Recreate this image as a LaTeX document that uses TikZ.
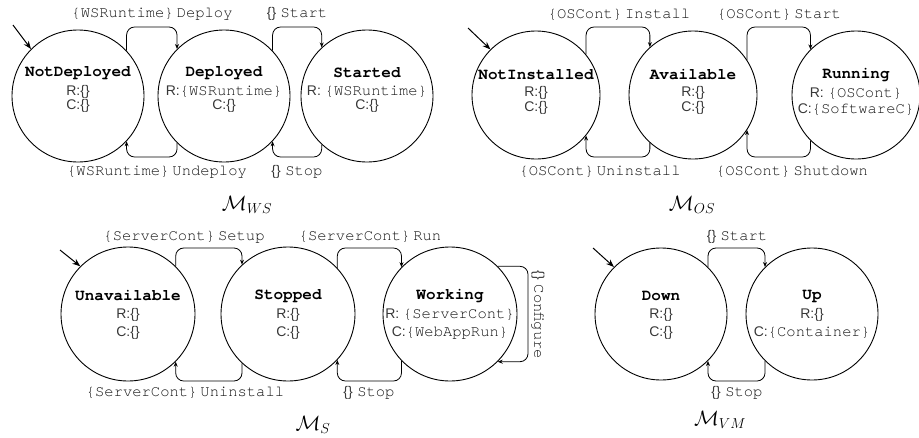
\documentclass[tikz,border=0pt]{standalone}
\usepackage{fontspec}
\setsansfont{Liberation Sans}
\newfontfamily\cur{texgyrecursor}[Extension=.otf,UprightFont=*-regular,BoldFont=*-bold]
\usetikzlibrary{arrows.meta}
\newcommand\nm[1]{{\cur\bfseries\fontsize{16}{16}\selectfont #1}}
\newcommand\mono[1]{{\color{black!92}\cur\fontsize{15.5}{16}\selectfont #1}}
\newcommand\sns[1]{{\color{black!78}\sffamily\fontsize{14}{16}\selectfont #1}}
\newcommand\mcap[1]{{\fontsize{20}{20}\selectfont$\mathcal{M}_{#1}$}}
\begin{document}
\begin{tikzpicture}[x=1pt,y=-1pt,
  st/.style={circle, draw, line width=0.9pt, minimum size=132pt, inner sep=0pt},
  tr/.style={-{Stealth[length=5pt,width=4pt]}, line width=0.8pt, rounded corners=8pt},
  ini/.style={-{Stealth[length=8pt,width=6pt]}, line width=1pt},
  txt/.style={inner sep=0pt},
  nmt/.style={inner sep=0pt, text=black}]
\useasboundingbox (0,0) rectangle (919,437);

% ---------------- M_WS ----------------
\node[st] (nd) at (78,96) {};
\node[nmt] (ndn) at (78,73) {\nm{NotDeployed}};
\node[txt] (ndr) at (78,92) {\sns{R:\{\}}};
\node[txt] (ndc) at (78,106) {\sns{C:\{\}}};

\node[st] (dep) at (224,96) {};
\node[nmt] (depn) at (224,73) {\nm{Deployed}};
\node[txt] (depr) at (224,92) {\sns{R:}\mono{\{WSRuntime\}}};
\node[txt] (depc) at (224,106) {\sns{C:\{\}}};

\node[st] (sta) at (367,96) {};
\node[nmt] (stan) at (367,73) {\nm{Started}};
\node[txt] (star) at (367,92) {\sns{R: }\mono{\{WSRuntime\}}};
\node[txt] (stac) at (367,106) {\sns{C:\{\}}};

\coordinate (i1) at (13,25);
\draw[ini] (i1) -- (nd.135);
\draw[tr] (nd.43) |- (150,27) -| (dep.135);
\draw[tr] (dep.225) |- (150,157) -| (nd.317);
\draw[tr] (dep.43) |- (297,27) -| (sta.133);
\draw[tr] (sta.227) |- (297,157) -| (dep.317);

\node[txt] (l1) at (152,14) {\mono{\{WSRuntime\}}\hspace{3pt}\mono{Deploy}};
\node[txt] (l2) at (157,172) {\mono{\{WSRuntime\}}\hspace{3pt}\mono{Undeploy}};
\node[txt] (l3) at (297,14) {\sns{\{\}}\hspace{4.5pt}\mono{Start}};
\node[txt] (l4) at (297,172) {\sns{\{\}}\hspace{4.5pt}\mono{Stop}};
\node (cws) at (247,205) {\mcap{WS}};

% ---------------- M_OS ----------------
\node[st, minimum size=128pt] (ni) at (536,95) {};
\node[nmt] (nin) at (536,75) {\nm{NotInstalled}};
\node[txt] (nir) at (536,93) {\sns{R:\{\}}};
\node[txt] (nic) at (536,108) {\sns{C:\{\}}};

\node[st, minimum size=128pt] (av) at (693,95) {};
\node[nmt] (avn) at (693,75) {\nm{Available}};
\node[txt] (avr) at (693,93) {\sns{R:\{\}}};
\node[txt] (avc) at (693,108) {\sns{C:\{\}}};

\node[st, minimum size=128pt] (run) at (856,95) {};
\node[nmt] (runn) at (856,75) {\nm{Running}};
\node[txt] (runr) at (856,94) {\sns{R: }\mono{\{OSCont\}}};
\node[txt] (runc) at (856,110) {\sns{C:}\mono{\{SoftwareC\}}};

\coordinate (i2) at (468,28);
\draw[ini] (i2) -- (ni.135);
\draw[tr] (ni.39) |- (618,27) -| (av.132);
\draw[tr] (av.228) |- (618,157) -| (ni.321);
\draw[tr] (av.33) |- (780,27) -| (run.135);
\draw[tr] (run.225) |- (780,157) -| (av.327);

\node[txt] (l5) at (619,15) {\mono{\{OSCont\}}\hspace{3pt}\mono{Install}};
\node[txt] (l6) at (600,172) {\mono{\{OSCont\}}\hspace{3pt}\mono{Uninstall}};
\node[txt] (l7) at (779,15) {\mono{\{OSCont\}}\hspace{3pt}\mono{Start}};
\node[txt] (l8) at (792,172) {\mono{\{OSCont\}}\hspace{3pt}\mono{Shutdown}};
\node (cos) at (692,205) {\mcap{OS}};

% ---------------- M_S ----------------
\node[st, minimum size=134pt] (un) at (128,314) {};
\node[nmt] (unn) at (128,296) {\nm{Unavailable}};
\node[txt] (unr) at (128,315) {\sns{R:\{\}}};
\node[txt] (unc) at (128,333) {\sns{C:\{\}}};

\node[st, minimum size=134pt] (stp) at (288,314) {};
\node[nmt] (stpn) at (288,296) {\nm{Stopped}};
\node[txt] (stpr) at (288,315) {\sns{R:\{\}}};
\node[txt] (stpc) at (288,333) {\sns{C:\{\}}};

\node[st, minimum size=134pt] (wk) at (450,314) {};
\node[nmt] (wkn) at (450,296) {\nm{Working}};
\node[txt] (wkr) at (450,315) {\sns{R: }\mono{\{ServerCont\}}};
\node[txt] (wkc) at (450,333) {\sns{C:}\mono{\{WebAppRun\}}};

\coordinate (i3) at (60,250);
\draw[ini] (i3) -- (un.135);
\draw[tr] (un.45) |- (208,248) -| (stp.133);
\draw[tr] (stp.227) |- (208,381) -| (un.315);
\draw[tr] (stp.43) |- (370,248) -| (wk.136);
\draw[tr] (wk.224) |- (370,381) -| (stp.317);
\draw[tr] (wk.45) -| (528,314) |- (wk.315);

\node[txt] (l9) at (184,237) {\mono{\{ServerCont\}}\hspace{3pt}\mono{Setup}};
\node[txt] (l10) at (185,393) {\mono{\{ServerCont\}}\hspace{3pt}\mono{Uninstall}};
\node[txt] (l11) at (370,237) {\mono{\{ServerCont\}}\hspace{3pt}\mono{Run}};
\node[txt] (l12) at (369,393) {\sns{\{\}}\hspace{4.5pt}\mono{Stop}};
\node[txt, rotate=-90] (l13) at (538,315) {\sns{\{\}}\hspace{4.5pt}\mono{Configure}};
\node (cs) at (313,425) {\mcap{S}};

% ---------------- M_VM ----------------
\node[st] (dn) at (661,314) {};
\node[nmt] (dnn) at (661,296) {\nm{Down}};
\node[txt] (dnr) at (661,315) {\sns{R:\{\}}};
\node[txt] (dnc) at (661,333) {\sns{C:\{\}}};

\node[st] (up) at (812,314) {};
\node[nmt] (upn) at (812,296) {\nm{Up}};
\node[txt] (upr) at (812,315) {\sns{R:\{\}}};
\node[txt] (upc) at (812,333) {\sns{C:}\mono{\{Container\}}};

\coordinate (i4) at (593,248);
\draw[ini] (i4) -- (dn.135);
\draw[tr] (dn.45) |- (737,248) -| (up.135);
\draw[tr] (up.225) |- (737,381) -| (dn.315);

\node[txt] (l14) at (737,237) {\sns{\{\}}\hspace{4.5pt}\mono{Start}};
\node[txt] (l15) at (737,393) {\sns{\{\}}\hspace{4.5pt}\mono{Stop}};
\node (cvm) at (720,420) {\mcap{VM}};
\end{tikzpicture}
\end{document}
